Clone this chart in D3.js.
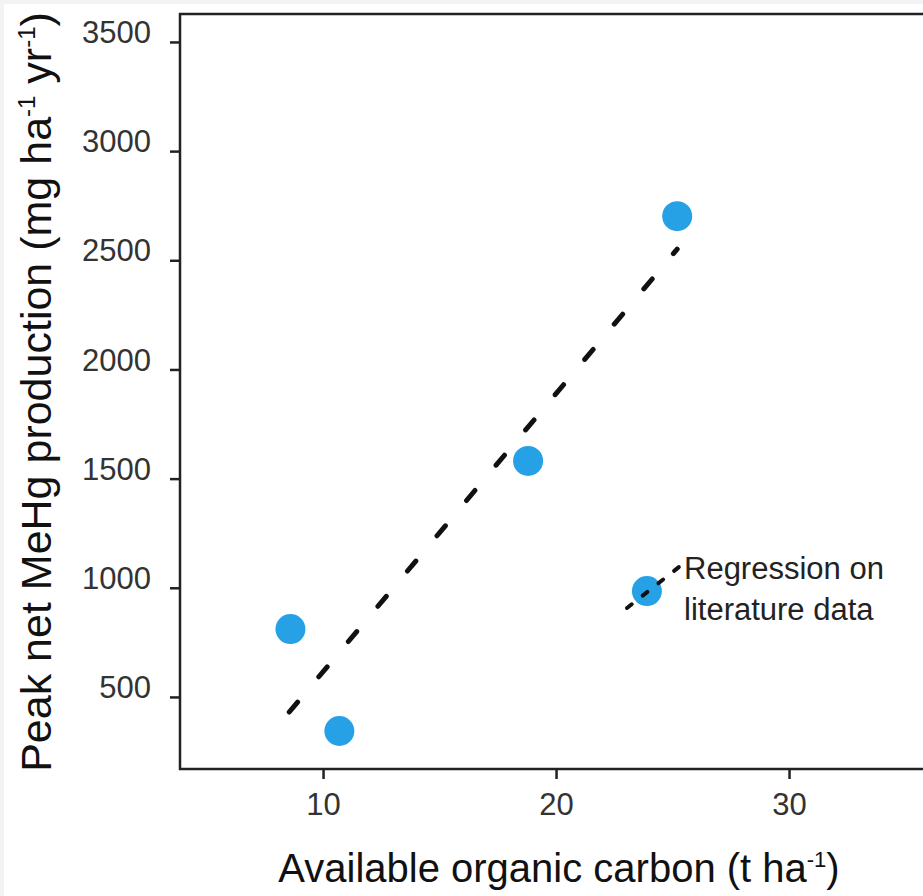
<!DOCTYPE html>
<html>
  <head>
    <meta charset="utf-8">
    <title>Peak net MeHg production vs available organic carbon</title>
    <script src="https://d3js.org/d3.v7.min.js"></script>
    <style>
      body { margin: 0; background: #f2f3f4; }
      svg { display: block; font-family: "Liberation Sans", Arial, sans-serif; }
      .axis line { stroke: #222; stroke-width: 2.5; }
      .axis text { fill: #333; font-size: 31px; font-family: "Liberation Sans", Arial, sans-serif; }
      .title { fill: #111; font-size: 40px; }
      .legend { fill: #222; font-size: 31px; }
    </style>
  </head>
  <body>
    <svg id="svg" width="923" height="896"></svg>
    <script>
      // data
      var carbon = [8.6, 10.7, 18.8, 25.2, 23.9];      // t ha-1
      var mehg = [811, 344, 1581, 2702, 985];          // mg ha-1 yr-1
      var regCarbon = [8.55, 25.2];
      var regMehg = [431, 2551];
      var xTicks = [10, 20, 30];
      var yTicks = [500, 1000, 1500, 2000, 2500, 3000, 3500];
      var legendLines = ["Regression on", "literature data"];

      var svg = d3.select("#svg");
      var plotLeft = 180, plotTop = 14, plotRight = 923, plotBottom = 769;

      svg.append("rect")
        .attr("x", 4).attr("y", 4)
        .attr("width", 923).attr("height", 896)
        .attr("fill", "#fff");

      var x = d3.scaleLinear().domain([3.86, 35.75]).range([plotLeft, plotRight]);
      var y = d3.scaleLinear().domain([170, 3628]).range([plotBottom, plotTop]);

      // axes
      var yAxis = svg.append("g")
        .attr("class", "axis")
        .attr("transform", "translate(" + plotLeft + ",0)")
        .call(d3.axisLeft(y).tickValues(yTicks).tickFormat(d3.format("d"))
          .tickSize(10).tickPadding(19).tickSizeOuter(0));
      yAxis.select(".domain").remove();
      yAxis.selectAll("text").attr("dy", "0.02em");

      var xAxis = svg.append("g")
        .attr("class", "axis")
        .attr("transform", "translate(0," + plotBottom + ")")
        .call(d3.axisBottom(x).tickValues(xTicks).tickSize(10).tickPadding(14).tickSizeOuter(0));
      xAxis.select(".domain").remove();

      // frame lines (top, left, bottom)
      svg.append("path")
        .attr("d", "M" + plotRight + "," + plotTop + "H" + plotLeft + "V" + plotBottom + "H" + plotRight)
        .attr("fill", "none")
        .attr("stroke", "#222")
        .attr("stroke-width", 2.5);

      // regression line
      var line = d3.line()
        .x(function(d) { return x(d[0]); })
        .y(function(d) { return y(d[1]); });
      svg.append("path")
        .datum(d3.zip(regCarbon, regMehg))
        .attr("d", line)
        .attr("fill", "none")
        .attr("stroke", "#111")
        .attr("stroke-width", 5)
        .attr("stroke-linecap", "round")
        .attr("stroke-dasharray", "13,33");

      // points
      svg.selectAll(".dot")
          .data(d3.zip(carbon, mehg))
        .enter().append("circle")
          .attr("class", "dot")
          .attr("cx", function(d) { return x(d[0]); })
          .attr("cy", function(d) { return y(d[1]); })
          .attr("r", 15)
          .attr("fill", "#27a1e6");

      // legend
      var legend = svg.append("g").attr("transform", "translate(627,608)");
      legend.append("path")
        .attr("d", "M0,0L57,-45")
        .attr("stroke", "#111")
        .attr("stroke-width", 4)
        .attr("stroke-linecap", "round")
        .attr("stroke-dasharray", "6,14");
      legend.selectAll("text")
          .data(legendLines)
        .enter().append("text")
          .attr("class", "legend")
          .attr("x", 57)
          .attr("y", function(d, i) { return -29 + i * 41; })
          .text(function(d) { return d; });

      // axis titles
      var xt = svg.append("text")
        .attr("class", "title")
        .attr("x", 559)
        .attr("y", 882)
        .attr("text-anchor", "middle");
      xt.append("tspan").text("Available organic carbon (t ha");
      xt.append("tspan").attr("dy", -15).style("font-size", "22px").text("-1");
      xt.append("tspan").attr("dy", 15).text(")");

      var yt = svg.append("text")
        .attr("class", "title")
        .style("font-size", "43px")
        .attr("transform", "translate(51,392) rotate(-90)")
        .attr("text-anchor", "middle");
      yt.append("tspan").text("Peak net MeHg production (mg ha");
      yt.append("tspan").attr("dy", -16).style("font-size", "24px").text("-1");
      yt.append("tspan").attr("dy", 16).text(" yr");
      yt.append("tspan").attr("dy", -16).style("font-size", "24px").text("-1");
      yt.append("tspan").attr("dy", 16).text(")");
    </script>
  </body>
</html>
